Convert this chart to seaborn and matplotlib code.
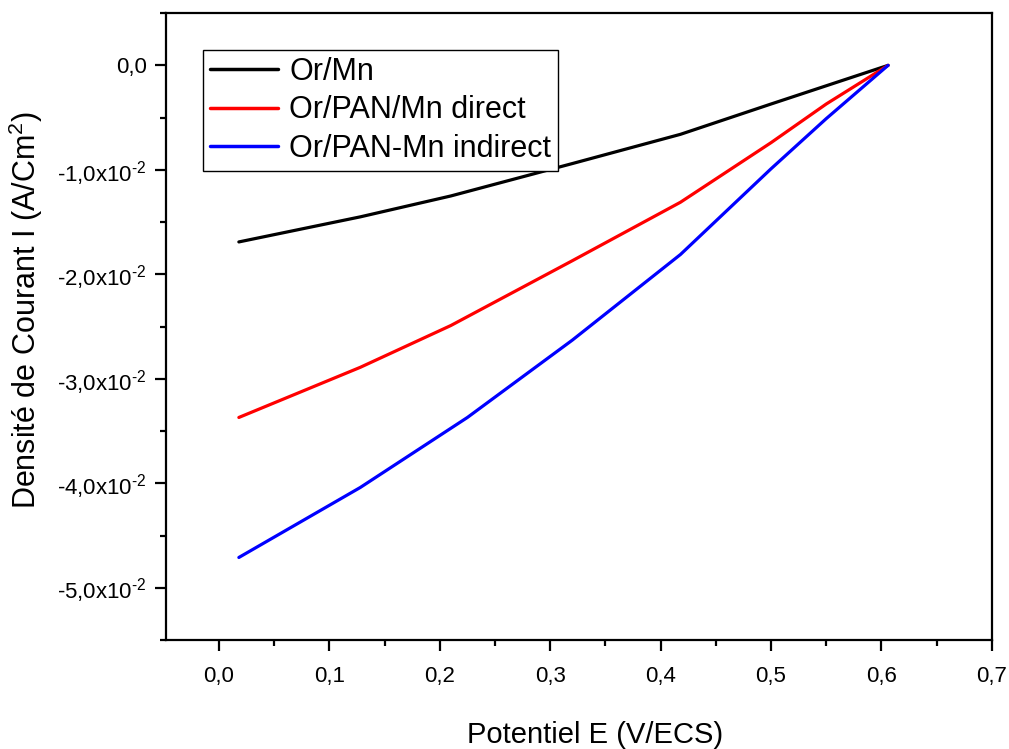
import matplotlib
matplotlib.use("Agg")
import matplotlib.pyplot as plt
import seaborn as sns
import pandas as pd
from matplotlib.ticker import MultipleLocator, FixedLocator

# Data
x_black = [0.018, 0.128, 0.21, 0.32, 0.418, 0.5, 0.606]
y_black = [-0.0169, -0.0145, -0.0125, -0.0094, -0.0066, -0.0037, 0.0]

x_red = [0.018, 0.128, 0.21, 0.32, 0.418, 0.5, 0.55, 0.606]
y_red = [-0.0337, -0.0289, -0.0249, -0.0187, -0.0131, -0.0074, -0.0037, 0.0]

x_blue = [0.018, 0.128, 0.225, 0.32, 0.418, 0.5, 0.55, 0.606]
y_blue = [-0.0471, -0.0404, -0.0337, -0.0263, -0.0181, -0.0099, -0.0051, 0.0]

labels = ["Or/Mn", "Or/PAN/Mn direct", "Or/PAN-Mn indirect"]
colors = ["#000000", "#ff0000", "#0000ff"]

xticks = [0.0, 0.1, 0.2, 0.3, 0.4, 0.5, 0.6, 0.7]
xticklabels = ["0,0", "0,1", "0,2", "0,3", "0,4", "0,5", "0,6", "0,7"]
yticks = [0.0, -0.01, -0.02, -0.03, -0.04, -0.05]
yticklabels = ["0,0", r"-1,0x10$^{\text{-}2}$", r"-2,0x10$^{\text{-}2}$", r"-3,0x10$^{\text{-}2}$",
               r"-4,0x10$^{\text{-}2}$", r"-5,0x10$^{\text{-}2}$"]

sns.set_theme(style="ticks")
plt.rcParams['font.family'] = ['Liberation Sans', 'DejaVu Sans']
plt.rcParams['mathtext.fontset'] = 'custom'
plt.rcParams['mathtext.rm'] = 'Liberation Sans'
plt.rcParams['mathtext.it'] = 'Liberation Sans'
plt.rcParams['text.color'] = 'black'
plt.rcParams['axes.labelcolor'] = 'black'
plt.rcParams['xtick.color'] = 'black'
plt.rcParams['ytick.color'] = 'black'

fig = plt.figure(figsize=(10.09, 7.49), dpi=100)
ax = fig.add_axes([0.1645, 0.1455, 0.8185, 0.837])

frames = []
for xs, ys, lab in [(x_black, y_black, labels[0]), (x_red, y_red, labels[1]), (x_blue, y_blue, labels[2])]:
    frames.append(pd.DataFrame({"E": xs, "I": ys, "serie": lab}))
df = pd.concat(frames, ignore_index=True)

sns.lineplot(data=df, x="E", y="I", hue="serie", hue_order=labels,
             palette=colors, linewidth=2.3, ax=ax, sort=False, estimator=None)

ax.set_xlim(-0.048, 0.7)
ax.set_ylim(-0.055, 0.005)
ax.xaxis.set_major_locator(FixedLocator(xticks))
ax.set_xticklabels(xticklabels)
ax.xaxis.set_minor_locator(MultipleLocator(0.05))
ax.yaxis.set_major_locator(FixedLocator(yticks))
ax.set_yticklabels(yticklabels)
ax.yaxis.set_minor_locator(MultipleLocator(0.005))

for s in ax.spines.values():
    s.set_visible(True)
    s.set_linewidth(1.6)
    s.set_color("black")

ax.tick_params(axis="both", which="major", direction="out", length=8, width=1.6,
               labelsize=16, colors="black", pad=6)
ax.tick_params(axis="both", which="minor", direction="out", length=4, width=1.6)
ax.tick_params(axis="x", pad=11)

ax.set_xlabel("Potentiel E (V/ECS)", fontsize=21, color="black")
ax.set_ylabel(r"Densité de Courant I (A/Cm$^2$)", fontsize=22, color="black")
ax.xaxis.set_label_coords(0.52, -0.129)
ax.yaxis.set_label_coords(-0.147, 0.526)

leg = ax.legend(loc="upper left", bbox_to_anchor=(0.0448, 0.941), fontsize=22,
                frameon=True, fancybox=False, edgecolor="black", framealpha=1,
                handlelength=2.25, handletextpad=0.35, borderpad=0.22, labelspacing=0.28,
                borderaxespad=0, title=None)
leg.get_frame().set_linewidth(1.0)
for line in leg.get_lines():
    line.set_linewidth(2.5)

fig.savefig("out.png", dpi=100)
